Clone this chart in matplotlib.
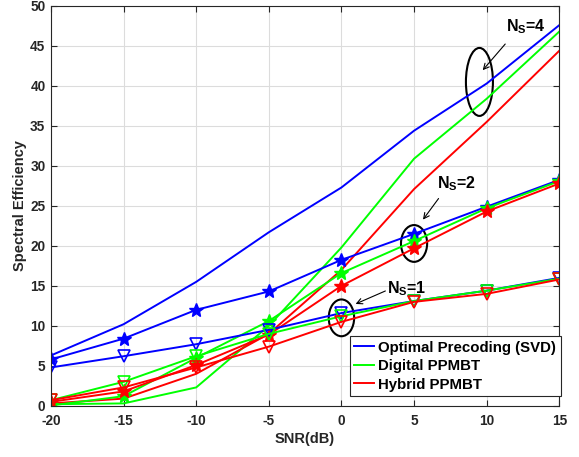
import matplotlib
matplotlib.use('Agg')
import matplotlib.pyplot as plt
from matplotlib.lines import Line2D
from matplotlib.patches import Ellipse

plt.rcParams['font.family'] = ['Liberation Sans', 'DejaVu Sans']
plt.rcParams['font.weight'] = 'bold'
plt.rcParams['axes.unicode_minus'] = False
plt.rcParams['mathtext.fontset'] = 'custom'
plt.rcParams['mathtext.rm'] = 'Liberation Sans:bold'
plt.rcParams['mathtext.bf'] = 'Liberation Sans:bold'

snr = [-20, -15, -10, -5, 0, 5, 10, 15]

# Ns = 4 (no markers)
svd_ns4 = [6.3, 10.2, 15.5, 21.7, 27.3, 34.4, 40.3, 47.6]
dig_ns4 = [0.2, 0.3, 2.3, 10.0, 19.8, 30.9, 38.4, 46.8]
hyb_ns4 = [0.3, 0.9, 4.0, 9.0, 17.0, 27.1, 35.5, 44.4]

# Ns = 2 (stars)
svd_ns2 = [5.8, 8.4, 12.0, 14.3, 18.25, 21.5, 24.9, 28.25]
dig_ns2 = [0.05, 1.2, 6.0, 10.6, 16.6, 20.6, 24.7, 28.1]
hyb_ns2 = [0.5, 1.8, 5.1, 8.9, 15.0, 19.7, 24.3, 27.8]

# Ns = 1 (triangles)
svd_ns1 = [4.8, 6.2, 7.7, 9.5, 11.6, 13.1, 14.4, 16.0]
dig_ns1 = [0.7, 3.0, 6.2, 9.0, 11.2, 13.1, 14.4, 15.9]
hyb_ns1 = [0.7, 2.3, 4.8, 7.4, 10.5, 13.0, 14.0, 15.8]

labels = ['Optimal Precoding (SVD)', 'Digital PPMBT', 'Hybrid PPMBT']
colors = ['#0000ff', '#00ff00', '#ff0000']

fig = plt.figure(figsize=(5.79, 4.57), dpi=100)
ax = fig.add_axes([0.088, 0.112, 0.878, 0.875])

lw = 1.4
for ys, c in zip([svd_ns4, dig_ns4, hyb_ns4], colors):
    ax.plot(snr, ys, color=c, lw=lw)
for ys, c in zip([svd_ns2, dig_ns2, hyb_ns2], colors):
    ax.plot(snr, ys, color=c, lw=lw, marker='*', markersize=10)
for ys, c in zip([svd_ns1, dig_ns1, hyb_ns1], colors):
    ax.plot(snr, ys, color=c, lw=lw, marker='v', markersize=8,
            markerfacecolor='none', markeredgewidth=1.2)

ax.set_xlim(-20, 15)
ax.set_ylim(0, 50)
ax.set_xticks(range(-20, 16, 5))
ax.set_yticks(range(0, 51, 5))
ax.grid(True, color='#dcdcdc', lw=0.8)
ax.set_axisbelow(True)
ax.tick_params(direction='in', top=True, right=True, labelsize=9.8,
               colors='#262626', length=4)
ax.tick_params(axis='x', pad=6)
ax.tick_params(axis='y', pad=4)
for s in ax.spines.values():
    s.set_color('#262626')
    s.set_linewidth(0.8)

ax.set_xlabel('SNR(dB)', fontsize=10.5, fontweight='bold', color='#262626', labelpad=3)
ax.set_ylabel('Spectral Efficiency', fontsize=10.5, fontweight='bold', color='#262626', labelpad=2)

# annotations: ellipses, arrows, labels
ax.add_patch(Ellipse((9.5, 40.5), 1.86, 8.5, fill=False, ec='black', lw=1.5))
ax.add_patch(Ellipse((5.0, 20.3), 1.8, 4.6, fill=False, ec='black', lw=1.5))
ax.add_patch(Ellipse((0.0, 11.0), 1.75, 4.6, fill=False, ec='black', lw=1.5))

arr = dict(arrowstyle='->', color='black', lw=0.8)
ax.annotate('', xy=(9.6, 41.7), xytext=(11.4, 45.5), arrowprops=arr)
ax.annotate('', xy=(5.5, 23.0), xytext=(6.8, 26.2), arrowprops=arr)
ax.annotate('', xy=(0.8, 12.6), xytext=(3.2, 14.5), arrowprops=arr)

ax.text(12.7, 47.4, r'N$_\mathrm{S}$=4', fontsize=11.5, fontweight='bold', ha='center', va='center')
ax.text(7.9, 27.8, r'N$_\mathrm{S}$=2', fontsize=11.5, fontweight='bold', ha='center', va='center')
ax.text(4.5, 14.7, r'N$_\mathrm{S}$=1', fontsize=11.5, fontweight='bold', ha='center', va='center')

handles = [Line2D([], [], color=c, lw=lw) for c in colors]
leg = ax.legend(handles, labels, loc='lower right', fontsize=10.8, frameon=True,
                fancybox=False, edgecolor='#262626', framealpha=1,
                handlelength=1.3, handletextpad=0.3, borderpad=0.3,
                labelspacing=0.3, borderaxespad=0.0,
                bbox_to_anchor=(1.003, 0.024))
leg.get_frame().set_linewidth(0.8)

fig.savefig('out.png', dpi=100)
